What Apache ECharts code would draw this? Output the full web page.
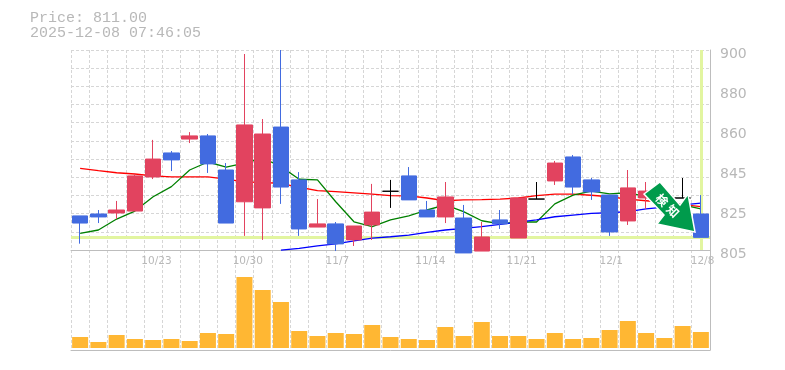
<!DOCTYPE html>
<html>
<head>
<meta charset="utf-8">
<style>html,body{margin:0;padding:0;background:#fff}#c{width:785px;height:370px}</style>
<script src="https://cdn.jsdelivr.net/npm/echarts@6/dist/echarts.min.js"></script>
</head>
<body>
<div id="c"></div>
<script>
const categories = ['10/17','10/20','10/21','10/22','10/23','10/24','10/27','10/28','10/29','10/30','10/31','11/4','11/5','11/6','11/7','11/10','11/11','11/12','11/13','11/14','11/17','11/18','11/19','11/20','11/21','11/25','11/26','11/27','11/28','12/1','12/2','12/3','12/4','12/5','12/8'];
const dateLabels = ['10/23','10/30','11/7','11/14','11/21','12/1','12/8'];
const open  = [821.2,822.1,822.6,823.5,839.7,851.1,857.7,859.2,843,827.9,825,863.4,838.3,815.9,817.4,809.8,816.9,832.9,840.2,824,820.7,820.2,804.5,819.3,810.7,829.2,837.8,849.2,838.3,831.1,818.8,829.7,826.9,829.7,822.1];
const close = [817.8,820.7,824,840.2,848.2,847.8,859.2,845.9,817.8,864.4,860.1,834.9,815,817.4,807.9,816.4,823,832.9,828.8,820.7,830.2,803.6,811.2,817.4,829.7,829.2,846.3,834.9,832.6,813.6,834.5,833,830.7,829.7,811];
const low   = [808,817.8,819.7,823.5,838.7,842.5,855.8,841.6,817.8,811.7,809.8,826.9,811.7,815.9,804.5,806.9,809.8,825,828.8,820.7,817.8,803.6,804.5,815,810.7,829.2,835.9,831.6,828.8,811.7,816.9,824.5,824,829.7,811];
const high  = [821.2,824,828.3,841.1,857.3,852,861,860.1,846.3,898.1,867.2,900,842,829.2,818.3,816.4,836.4,838.3,844.4,828.3,837.3,826.4,818.3,824,829.7,837.3,847.3,850.1,839.2,831.1,843,837.3,832,839.2,831.1];
const volume = [11,6,13,9,8,9,7,15,14,71,58,46,17,12,15,14,23,11,9,8,21,12,26,12,12,9,15,9,10,18,27,15,10,22,16];
const maLong = [843.8,842.7,841.7,841.1,840.2,839.7,839.7,839.7,838.7,837.4,837,836.7,834.8,833.2,832.7,832.1,831.5,830.8,830.7,829.7,828.4,828.8,828.9,829.2,829.7,830.8,831.5,831.5,831,830.3,829.2,828.4,827.6,826.6,825.6];
const maShort = [812.9,814.5,819.7,823.5,830.3,835.1,843,846.8,844.4,846.3,848.7,844.6,838.6,838.3,827.9,818.4,816.1,819.3,821.2,824,826.4,823.2,818.9,817.4,818.3,818.3,826.9,831.1,833,831.7,832.2,830.3,828.8,826.4,824.5];
const maTrend = [null,null,null,null,null,null,null,null,null,null,null,804.9,805.8,807,807.9,809.3,810.6,811.3,812.1,813.4,814.5,815.3,816.1,817.2,818.2,819.3,820.8,821.6,822.4,822.7,823.2,824.5,825.4,826.4,827.3];
const yTickValues = [805,824,843,862,881,900];
const yTickLabels = ['805','825','845','860','880','900'];
const lastPrice = 811.00;
const priceText = 'Price: 811.00';
const timeText = '2025-12-08 07:46:05';
const badgeChars = ['検','知'];

const RED = '#E2435F', BLUE = '#426BE0', GREY = '#BDBDBD', GRID = '#D6D6D6', PALE = '#E2F5A0', TXT = '#B8B8B8';
const candleData = categories.map((_, i) => {
  const doji = open[i] === close[i];
  return {
    value: [open[i], close[i], low[i], high[i]],
    itemStyle: doji ? {color: '#000', color0: '#000', borderColor: '#000', borderColor0: '#000'} : undefined
  };
});
const vSplit = {show: true, interval: 0, lineStyle: {color: GRID, type: [3, 2], width: 1}};
const chart = echarts.init(document.getElementById('c'), null, {renderer: 'canvas'});
chart.setOption({
  animation: false,
  backgroundColor: '#fff',
  grid: [
    {left: 71, right: 75, top: 50, height: 200},
    {left: 71, right: 75, top: 250, height: 100}
  ],
  xAxis: [
    {type: 'category', gridIndex: 0, data: categories, boundaryGap: true,
     axisLine: {show: true, onZero: false, lineStyle: {color: GREY, width: 1}}, axisTick: {show: false},
     splitLine: vSplit,
     axisLabel: {interval: 0, hideOverlap: false, margin: 6, color: TXT, fontFamily: 'DejaVu Sans', fontSize: 10.5,
       formatter: v => dateLabels.includes(v) ? ' '.repeat(v.length - 3) + v : ''}},
    {type: 'category', gridIndex: 1, data: categories, boundaryGap: true,
     axisLine: {show: true, onZero: false, lineStyle: {color: GREY, width: 1}}, axisTick: {show: false},
     splitLine: vSplit, axisLabel: {show: false}}
  ],
  yAxis: [
    {type: 'value', gridIndex: 0, position: 'right', min: 805, max: 900, scale: true,
     axisLine: {show: true, lineStyle: {color: GREY, width: 1}}, axisTick: {show: false}, splitLine: {show: false},
     axisLabel: {customValues: yTickValues, margin: 10, color: TXT, fontFamily: 'DejaVu Sans', fontSize: 14,
       verticalAlign: 'top', lineHeight: 8,
       formatter: v => yTickLabels[yTickValues.indexOf(v)]}},
    {type: 'value', gridIndex: 0, position: 'left', min: 0, max: 11, interval: 1,
     axisLine: {show: false}, axisTick: {show: false}, axisLabel: {show: false},
     splitLine: {show: true, lineStyle: {color: GRID, type: [3, 2], width: 1}}},
    {type: 'value', gridIndex: 1, position: 'right', min: -2, max: 98,
     axisLine: {show: true, onZero: false, lineStyle: {color: GREY, width: 1}}, axisTick: {show: false}, axisLabel: {show: false}, splitLine: {show: false}}
  ],
  series: [
    {type: 'line', name: 'long', xAxisIndex: 0, yAxisIndex: 0, data: maLong, showSymbol: false, z: 3, clip: false,
     lineStyle: {color: '#FF0000', width: 1.3},
     markLine: {silent: true, symbol: 'none', label: {show: false}, z: 2,
       lineStyle: {color: PALE, width: 3, type: 'solid'},
       data: [{yAxis: lastPrice}, {xAxis: categories[categories.length - 1]}]}},
    {type: 'line', name: 'short', xAxisIndex: 0, yAxisIndex: 0, data: maShort, showSymbol: false, z: 3, clip: false,
     lineStyle: {color: '#008000', width: 1.3}},
    {type: 'line', name: 'trend', xAxisIndex: 0, yAxisIndex: 0, data: maTrend, showSymbol: false, z: 3, clip: false,
     lineStyle: {color: '#0000FF', width: 1.3}},
    {type: 'candlestick', xAxisIndex: 0, yAxisIndex: 0, data: candleData, barWidth: 16, clip: false, z: 4,
     itemStyle: {color: RED, color0: BLUE, borderColor: RED, borderColor0: BLUE, borderWidth: 1}},
    {type: 'bar', xAxisIndex: 1, yAxisIndex: 2, data: volume, barWidth: 16, z: 4,
     itemStyle: {color: '#FFB733'}}
  ],
  graphic: [
    {type: 'text', left: 30, top: 11, z: 10, style: {text: priceText + '\n' + timeText, fill: TXT, font: '15px "Liberation Mono"', lineHeight: 15}},
    {type: 'polygon', z: 20,
     shape: {points: [[660, 182], [644, 194], [664, 215], [657, 224], [695, 232], [688, 194], [680, 205]]},
     style: {fill: '#009B4C', stroke: '#fff', lineWidth: 1.5, lineJoin: 'miter'}},
    {type: 'text', z: 21, x: 662, y: 200, rotation: -Math.PI / 4,
     style: {text: badgeChars[0], fill: '#fff', font: 'bold 12px "Noto Sans CJK JP"', align: 'center', verticalAlign: 'middle'}},
    {type: 'text', z: 21, x: 673, y: 211, rotation: -Math.PI / 4,
     style: {text: badgeChars[1], fill: '#fff', font: 'bold 12px "Noto Sans CJK JP"', align: 'center', verticalAlign: 'middle'}}
  ]
});
</script>
</body>
</html>
